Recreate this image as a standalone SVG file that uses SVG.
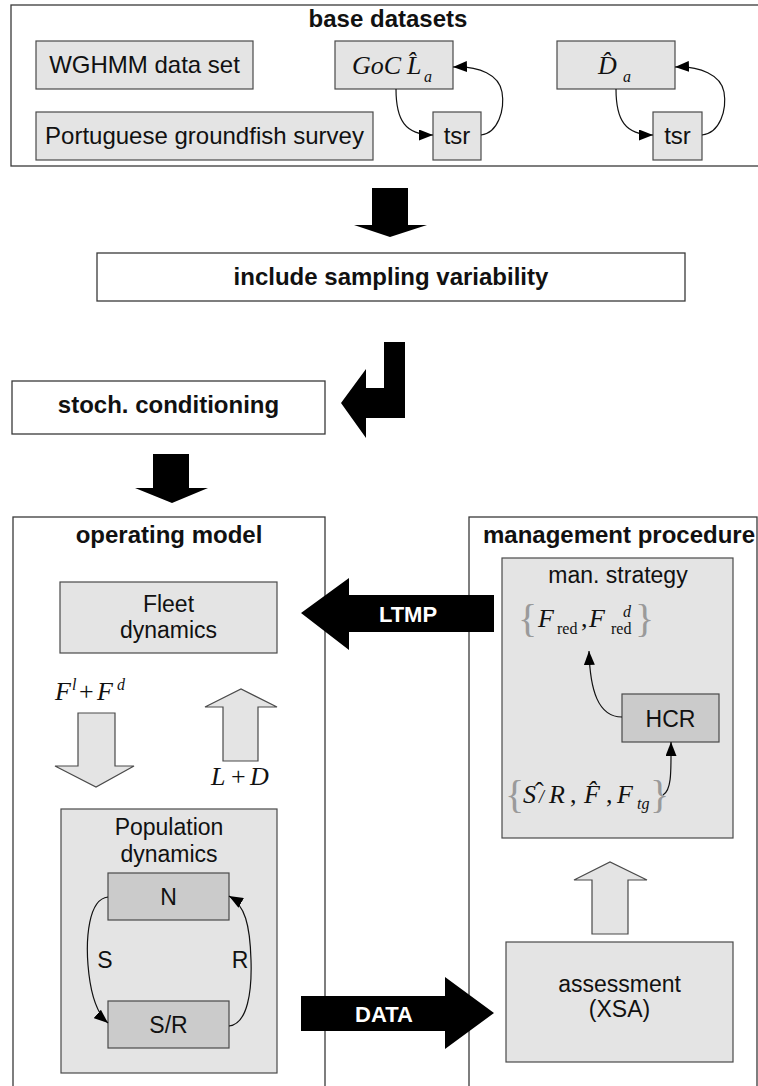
<svg xmlns="http://www.w3.org/2000/svg" width="758" height="1086" viewBox="0 0 758 1086">
<defs>
<style>
.frame{fill:#ffffff;stroke:#3a3a3a;stroke-width:1.3}
.box{fill:#e4e4e4;stroke:#4a4a4a;stroke-width:1.2}
.dbox{fill:#cbcbcb;stroke:#4a4a4a;stroke-width:1.2}
.garrow{fill:#e4e4e4;stroke:#4a4a4a;stroke-width:1.2}
.barrow{fill:#000000}
.t{font-family:"Liberation Sans",Arial,sans-serif;font-size:23px;fill:#111;text-anchor:middle}
.tl{font-size:24px}
.b{font-family:"Liberation Sans",Arial,sans-serif;font-size:24px;font-weight:bold;fill:#111;text-anchor:middle}
.w{font-family:"Liberation Sans",Arial,sans-serif;font-size:22px;font-weight:bold;fill:#ffffff;text-anchor:middle}
.m{font-family:"Liberation Serif","Times New Roman",serif;font-size:26px;font-style:italic;fill:#111}
.sub{font-size:16px}
.up{font-style:normal}
.br{font-family:"Liberation Serif","Times New Roman",serif;font-size:40px;fill:#9a9a9a;font-style:normal}
.c{fill:none;stroke:#111;stroke-width:1.2}
</style>
<marker id="ah" viewBox="0 0 14 11" refX="14" refY="5.5" markerWidth="14" markerHeight="11" markerUnits="userSpaceOnUse" orient="auto">
<path d="M0,0 L14,5.5 L0,11 Z" fill="#000"/>
</marker>
</defs>

<g id="base-datasets">
<rect class="frame" x="11" y="5" width="752" height="161"/>
<text class="b" x="388" y="27">base datasets</text>
</g>
<g id="wghmm">
<rect class="box" x="36" y="41" width="217" height="48"/>
<text class="t tl" x="144.5" y="73">WGHMM data set</text>
</g>
<g id="portuguese">
<rect class="box" x="36" y="112" width="337" height="48"/>
<text class="t tl" x="204.5" y="144">Portuguese groundfish survey</text>
</g>
<g id="goc">
<rect class="box" x="335" y="41" width="118" height="48"/>
<text class="m" x="352" y="74">GoC <tspan x="407">L̂</tspan><tspan class="sub" x="424" y="82">a</tspan></text>
</g>
<g id="tsr1">
<rect class="box" x="433" y="112" width="48" height="48"/>
<text class="t tl" x="457" y="144">tsr</text>
</g>
<g id="dhat">
<rect class="box" x="557" y="41" width="118" height="48"/>
<text class="m" x="598" y="74">D̂<tspan class="sub" x="623" y="82">a</tspan></text>
</g>
<g id="tsr2">
<rect class="box" x="653" y="112" width="49" height="48"/>
<text class="t tl" x="677.5" y="144">tsr</text>
</g>

<g id="include">
<rect class="frame" x="97" y="253" width="588" height="48"/>
<text class="b" x="391" y="285">include sampling variability</text>
</g>
<g id="stoch">
<rect class="frame" x="12" y="381" width="313" height="53"/>
<text class="b" x="168.5" y="413">stoch. conditioning</text>
</g>

<g id="operating-model">
<rect class="frame" x="13" y="517" width="312" height="580"/>
<text class="b" x="169" y="543">operating model</text>
</g>
<g id="management-procedure">
<rect class="frame" x="469" y="517" width="288" height="580"/>
<text class="b" x="619" y="543">management procedure</text>
</g>

<g id="fleet">
<rect class="box" x="60" y="582" width="217" height="71"/>
<text class="t" x="168.5" y="612">Fleet</text>
<text class="t" x="168.5" y="638">dynamics</text>
</g>
<g id="population">
<rect class="box" x="61" y="809" width="216" height="264"/>
<text class="t" x="169" y="835">Population</text>
<text class="t" x="169" y="862">dynamics</text>
</g>
<g id="n">
<rect class="dbox" x="108" y="873" width="121" height="47"/>
<text class="t" x="168.5" y="905">N</text>
</g>
<g id="sr">
<rect class="dbox" x="108" y="1001" width="121" height="47"/>
<text class="t" x="168.5" y="1033">S/R</text>
</g>

<g id="man-strategy">
<rect class="box" x="502" y="558" width="231" height="280"/>
<text class="t" x="618" y="583">man. strategy</text>
</g>
<g id="hcr">
<rect class="dbox" x="622" y="694" width="97" height="48"/>
<text class="t" x="670.5" y="727">HCR</text>
</g>
<g id="assessment">
<rect class="box" x="506" y="942" width="227" height="120"/>
<text class="t" x="619.5" y="992">assessment</text>
<text class="t" x="619.5" y="1017">(XSA)</text>
</g>

<g id="labels">
<text class="br" x="518" y="632">{</text>
<text class="m" x="538" y="627">F<tspan class="sub up" x="557" y="634">red</tspan><tspan class="up" x="581" y="627">,</tspan><tspan x="589">F</tspan><tspan class="sub" x="623" y="617">d</tspan><tspan class="sub up" x="611" y="634">red</tspan></text>
<text class="br" x="635" y="632">}</text>

<text class="br" x="505" y="808">{</text>
<text class="m" x="523" y="803">S<tspan x="539" font-size="18">/</tspan><tspan class="up" x="535" y="800">ˆ</tspan><tspan x="549" y="803">R</tspan><tspan class="up" x="570">,</tspan><tspan x="584">F̂</tspan><tspan class="up" x="606">,</tspan><tspan x="617">F</tspan><tspan class="sub" x="637" y="809">tg</tspan></text>
<text class="br" x="650" y="808">}</text>

<text class="m" x="55" y="700">F<tspan class="sub" x="72" y="690">l</tspan><tspan class="up" x="79" y="700">+</tspan><tspan x="97">F</tspan><tspan class="sub" x="117" y="690">d</tspan></text>
<text class="m" x="211" y="785">L<tspan class="up" x="231">+</tspan><tspan x="250">D</tspan></text>

<text class="t" x="105" y="968">S</text>
<text class="t" x="240" y="968">R</text>
</g>

<g id="connectors">
<polygon class="barrow" points="372,188 408,188 408,225 427,225 390,237 354,225 372,225"/>
<polygon class="barrow" points="384,342 405,342 405,418 366,418 366,438 341,403 366,369 366,388 384,388"/>
<polygon class="barrow" points="153,454 189,454 189,488 208,488 172,503 135,488 153,488"/>
<polygon class="barrow" points="494,595 349,595 349,578 301,613 349,650 349,632 494,632"/>
<text class="w" x="408" y="622">LTMP</text>
<polygon class="barrow" points="301,996 445,996 445,977 494,1013 445,1049 445,1031 301,1031"/>
<text class="w" x="384" y="1022">DATA</text>

<polygon class="garrow" points="78,713 115,713 115,766 134,766 96,787 55,766 78,766"/>
<polygon class="garrow" points="223,761 258,761 258,707 277,707 241,689 205,707 223,707"/>
<polygon class="garrow" points="592,934 628,934 628,880 647,880 610,862 574,880 592,880"/>

<path class="c" d="M396,89 C396,120 405,135 433,135" marker-end="url(#ah)"/>
<path class="c" d="M481,135 C498,133 505,110 502,92 C499,75 480,66 453,67" marker-end="url(#ah)"/>
<path class="c" d="M616,89 C616,120 625,135 653,135" marker-end="url(#ah)"/>
<path class="c" d="M702,135 C720,133 727,110 724,92 C721,75 700,66 675,67" marker-end="url(#ah)"/>

<path class="c" d="M108,897 C88,899 86,940 88,965 C90,990 95,1012 108,1023" marker-end="url(#ah)"/>
<path class="c" d="M229,1026 C248,1024 252,990 251,960 C250,925 245,905 229,896" marker-end="url(#ah)"/>

<path class="c" d="M622,717 C598,717 590,690 589,651" marker-end="url(#ah)"/>
<path class="c" d="M663,795 C672,790 671,770 671,742" marker-end="url(#ah)"/>
</g>
</svg>
